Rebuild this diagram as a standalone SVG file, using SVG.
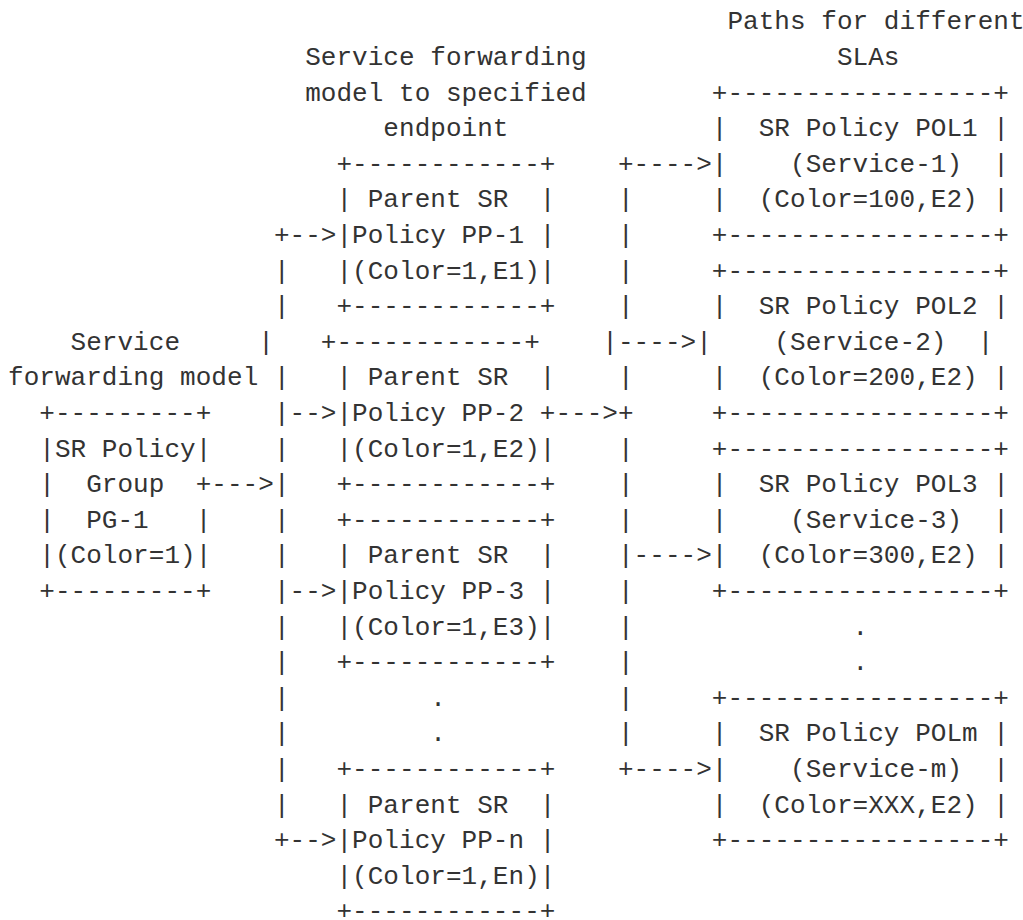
<svg xmlns="http://www.w3.org/2000/svg" width="1023" height="920" viewBox="0 0 1023 920" xml:space="preserve">
<style>
text{font-family:"Liberation Mono","DejaVu Sans Mono",monospace;font-size:26px;fill:#333;white-space:pre;letter-spacing:0.04px}
</style>
<rect width="1023" height="920" fill="#fff"/>
<g id="label-paths">
<text x="727.44" y="29.3">Paths for different</text>
<text x="836.92" y="64.9">SLAs</text>
</g>
<g id="label-service-endpoint">
<text x="305.16" y="64.9">Service forwarding</text>
<text x="305.16" y="100.5">model to specified</text>
<text x="383.36" y="136.1">endpoint</text>
</g>
<g id="label-service-model">
<text x="70.56" y="349.7">Service</text>
<text x="8" y="385.3">forwarding model</text>
</g>
<g id="node-pg1">
<text x="39.28" y="420.9">+---------+</text>
<text x="39.28" y="456.5">|SR Policy|</text>
<text x="39.28" y="492.1">|  Group  +</text>
<text x="39.28" y="527.7">|  PG-1   |</text>
<text x="39.28" y="563.3">|(Color=1)|</text>
<text x="39.28" y="598.9">+---------+</text>
</g>
<g id="node-pp1">
<text x="336.44" y="171.7">+------------+</text>
<text x="336.44" y="207.3">| Parent SR  |</text>
<text x="336.44" y="242.9">|Policy PP-1 |</text>
<text x="336.44" y="278.5">|(Color=1,E1)|</text>
<text x="336.44" y="314.1">+------------+</text>
</g>
<g id="node-pp2">
<text x="320.8" y="349.7">+------------+</text>
<text x="336.44" y="385.3">| Parent SR  |</text>
<text x="336.44" y="420.9">|Policy PP-2 +</text>
<text x="336.44" y="456.5">|(Color=1,E2)|</text>
<text x="336.44" y="492.1">+------------+</text>
</g>
<g id="node-pp3">
<text x="336.44" y="527.7">+------------+</text>
<text x="336.44" y="563.3">| Parent SR  |</text>
<text x="336.44" y="598.9">|Policy PP-3 |</text>
<text x="336.44" y="634.5">|(Color=1,E3)|</text>
<text x="336.44" y="670.1">+------------+</text>
</g>
<g id="ellipsis-pp">
<text x="430.28" y="705.7">.</text>
<text x="430.28" y="741.3">.</text>
</g>
<g id="node-ppn">
<text x="336.44" y="776.9">+------------+</text>
<text x="336.44" y="812.5">| Parent SR  |</text>
<text x="336.44" y="848.1">|Policy PP-n |</text>
<text x="336.44" y="883.7">|(Color=1,En)|</text>
<text x="336.44" y="919.3">+------------+</text>
</g>
<g id="node-pol1">
<text x="711.8" y="100.5">+-----------------+</text>
<text x="711.8" y="136.1">|  SR Policy POL1 |</text>
<text x="711.8" y="171.7">|    (Service-1)  |</text>
<text x="711.8" y="207.3">|  (Color=100,E2) |</text>
<text x="711.8" y="242.9">+-----------------+</text>
</g>
<g id="node-pol2">
<text x="711.8" y="278.5">+-----------------+</text>
<text x="711.8" y="314.1">|  SR Policy POL2 |</text>
<text x="696.16" y="349.7">|    (Service-2)  |</text>
<text x="711.8" y="385.3">|  (Color=200,E2) |</text>
<text x="711.8" y="420.9">+-----------------+</text>
</g>
<g id="node-pol3">
<text x="711.8" y="456.5">+-----------------+</text>
<text x="711.8" y="492.1">|  SR Policy POL3 |</text>
<text x="711.8" y="527.7">|    (Service-3)  |</text>
<text x="711.8" y="563.3">|  (Color=300,E2) |</text>
<text x="711.8" y="598.9">+-----------------+</text>
</g>
<g id="ellipsis-pol">
<text x="852.56" y="634.5">.</text>
<text x="852.56" y="670.1">.</text>
</g>
<g id="node-polm">
<text x="711.8" y="705.7">+-----------------+</text>
<text x="711.8" y="741.3">|  SR Policy POLm |</text>
<text x="711.8" y="776.9">|    (Service-m)  |</text>
<text x="711.8" y="812.5">|  (Color=XXX,E2) |</text>
<text x="711.8" y="848.1">+-----------------+</text>
</g>
<g id="connectors">
<text x="617.96" y="171.7">+----&gt;</text>
<text x="617.96" y="207.3">|</text>
<text x="273.88" y="242.9">+--&gt;</text>
<text x="617.96" y="242.9">|</text>
<text x="273.88" y="278.5">|</text>
<text x="617.96" y="278.5">|</text>
<text x="273.88" y="314.1">|</text>
<text x="617.96" y="314.1">|</text>
<text x="258.24" y="349.7">|</text>
<text x="602.32" y="349.7">|----&gt;</text>
<text x="273.88" y="385.3">|</text>
<text x="617.96" y="385.3">|</text>
<text x="273.88" y="420.9">|--&gt;</text>
<text x="555.4" y="420.9">---&gt;+</text>
<text x="273.88" y="456.5">|</text>
<text x="617.96" y="456.5">|</text>
<text x="211.32" y="492.1">---&gt;|</text>
<text x="617.96" y="492.1">|</text>
<text x="273.88" y="527.7">|</text>
<text x="617.96" y="527.7">|</text>
<text x="273.88" y="563.3">|</text>
<text x="617.96" y="563.3">|----&gt;</text>
<text x="273.88" y="598.9">|--&gt;</text>
<text x="617.96" y="598.9">|</text>
<text x="273.88" y="634.5">|</text>
<text x="617.96" y="634.5">|</text>
<text x="273.88" y="670.1">|</text>
<text x="617.96" y="670.1">|</text>
<text x="273.88" y="705.7">|</text>
<text x="617.96" y="705.7">|</text>
<text x="273.88" y="741.3">|</text>
<text x="617.96" y="741.3">|</text>
<text x="273.88" y="776.9">|</text>
<text x="617.96" y="776.9">+----&gt;</text>
<text x="273.88" y="812.5">|</text>
<text x="273.88" y="848.1">+--&gt;</text>
</g>
</svg>
